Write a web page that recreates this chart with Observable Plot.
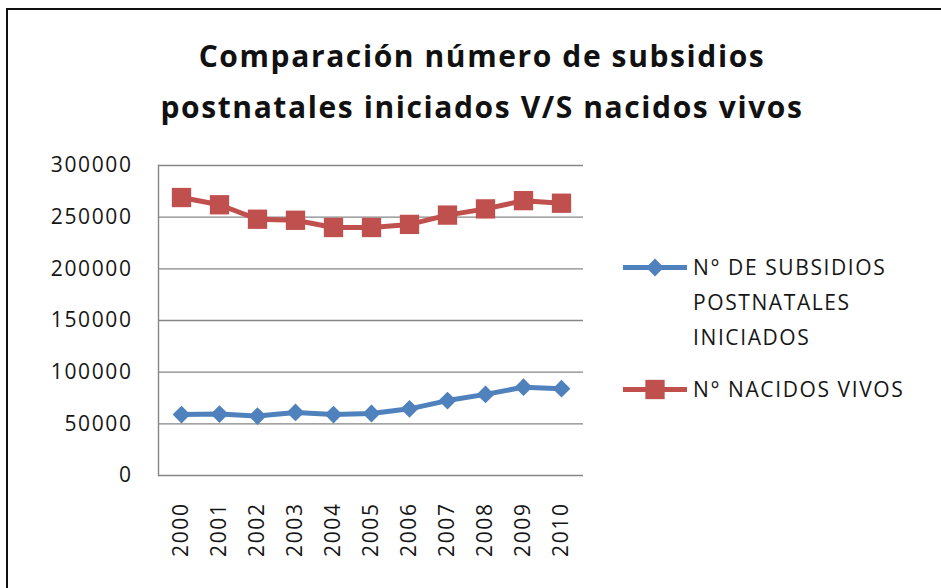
<!DOCTYPE html>
<html>
<head>
<meta charset="utf-8">
<script src="https://cdn.jsdelivr.net/npm/d3@7"></script>
<script src="https://cdn.jsdelivr.net/npm/@observablehq/plot@0.6"></script>
<style>
  html, body { margin: 0; padding: 0; background: #fff; overflow: hidden; }
  body { width: 941px; height: 588px; position: relative; font-family: "Open Sans", Lato, sans-serif; color: #161616; }
  #frame { position: absolute; left: 6px; top: 8px; width: 1000px; height: 700px; border: 2px solid #111; box-sizing: border-box; }
  #title { position: absolute; left: 0; width: 964px; top: 30px; text-align: center; font-size: 30px; font-weight: 700; line-height: 51px; letter-spacing: 1.6px; color: #111; }
  #chart { position: absolute; left: 0; top: 150px; }
  #chart svg text { letter-spacing: 1.6px; }
  #legend { position: absolute; left: 620px; top: 250px; font-size: 21px; letter-spacing: 1.6px; color: #161616; }
  .item { position: relative; display: flex; align-items: flex-start; }
  .item svg { flex: none; margin-right: 5px; }
  .item span { line-height: 35px; display: block; white-space: nowrap; }
</style>
</head>
<body>
<div id="frame"></div>
<div id="title">Comparación número de subsidios<br>postnatales iniciados V/S nacidos vivos</div>
<div id="chart"></div>
<div id="legend"></div>
<script>
const years = ["2000","2001","2002","2003","2004","2005","2006","2007","2008","2009","2010"];
const subsidios = [59000, 59500, 57500, 61000, 59000, 60000, 64500, 72500, 78500, 85500, 84000];
const nacidos = [269000, 262000, 248000, 247000, 240000, 240000, 243000, 252000, 258000, 266000, 263500];
const yTicks = [0, 50000, 100000, 150000, 200000, 250000, 300000];
const seriesNames = ["N° DE SUBSIDIOS POSTNATALES INICIADOS", "N° NACIDOS VIVOS"];
const seriesColors = ["#4F81BD", "#C0504D"];

const rows = [
  ...years.map((y, i) => ({year: y, value: subsidios[i], serie: seriesNames[0]})),
  ...years.map((y, i) => ({year: y, value: nacidos[i], serie: seriesNames[1]}))
];
const blue = rows.filter(d => d.serie === seriesNames[0]);
const red = rows.filter(d => d.serie === seriesNames[1]);

const chart = Plot.plot({
  width: 600,
  height: 425,
  marginLeft: 158,
  marginRight: 17,
  marginTop: 15,
  marginBottom: 100,
  style: {fontFamily: "'Open Sans', sans-serif", fontSize: "21px", color: "#161616", background: "transparent"},
  x: {type: "point", domain: years, padding: 0.5, label: null},
  y: {domain: [0, 300000], ticks: yTicks, label: null},
  marks: [
    Plot.gridY(yTicks, {stroke: "#868686", strokeOpacity: 1, strokeWidth: 1.4}),
    Plot.frame({anchor: "left", stroke: "#868686", strokeWidth: 1.4}),
    Plot.axisY(yTicks, {tickSize: 0, tickPadding: 26, tickFormat: d => String(d), fontSize: 21}),
    Plot.axisX({tickSize: 0, tickPadding: 27, tickRotate: -90, fontSize: 21}),
    Plot.line(blue, {x: "year", y: "value", stroke: seriesColors[0], strokeWidth: 5}),
    Plot.dot(blue, {x: "year", y: "value", symbol: "diamond2", r: 8, fill: seriesColors[0], stroke: "none"}),
    Plot.line(red, {x: "year", y: "value", stroke: seriesColors[1], strokeWidth: 5}),
    Plot.dot(red, {x: "year", y: "value", symbol: "square2", r: 12.3, fill: seriesColors[1], stroke: "none"})
  ]
});
document.getElementById("chart").appendChild(chart);

// legend
const legend = document.getElementById("legend");
const labelLines = [["N° DE SUBSIDIOS", "POSTNATALES", "INICIADOS"], ["N° NACIDOS VIVOS"]];
const symbols = [d3.symbolDiamond2, d3.symbolSquare2];
const symSizes = [Math.PI * 8 * 8, Math.PI * 12.3 * 12.3];
labelLines.forEach((lines, i) => {
  const item = document.createElement("div");
  item.className = "item";
  item.style.marginBottom = i === 0 ? "17px" : "0";
  const svg = d3.create("svg").attr("width", 68).attr("height", 35);
  svg.append("line").attr("x1", 3).attr("x2", 67).attr("y1", 17.5).attr("y2", 17.5)
    .attr("stroke", seriesColors[i]).attr("stroke-width", 5);
  svg.append("path").attr("transform", "translate(35,17.5)")
    .attr("d", d3.symbol(symbols[i], symSizes[i])()).attr("fill", seriesColors[i]);
  item.appendChild(svg.node());
  const txt = document.createElement("div");
  lines.forEach(l => { const s = document.createElement("span"); s.textContent = l; txt.appendChild(s); });
  item.appendChild(txt);
  legend.appendChild(item);
});
</script>
</body>
</html>
